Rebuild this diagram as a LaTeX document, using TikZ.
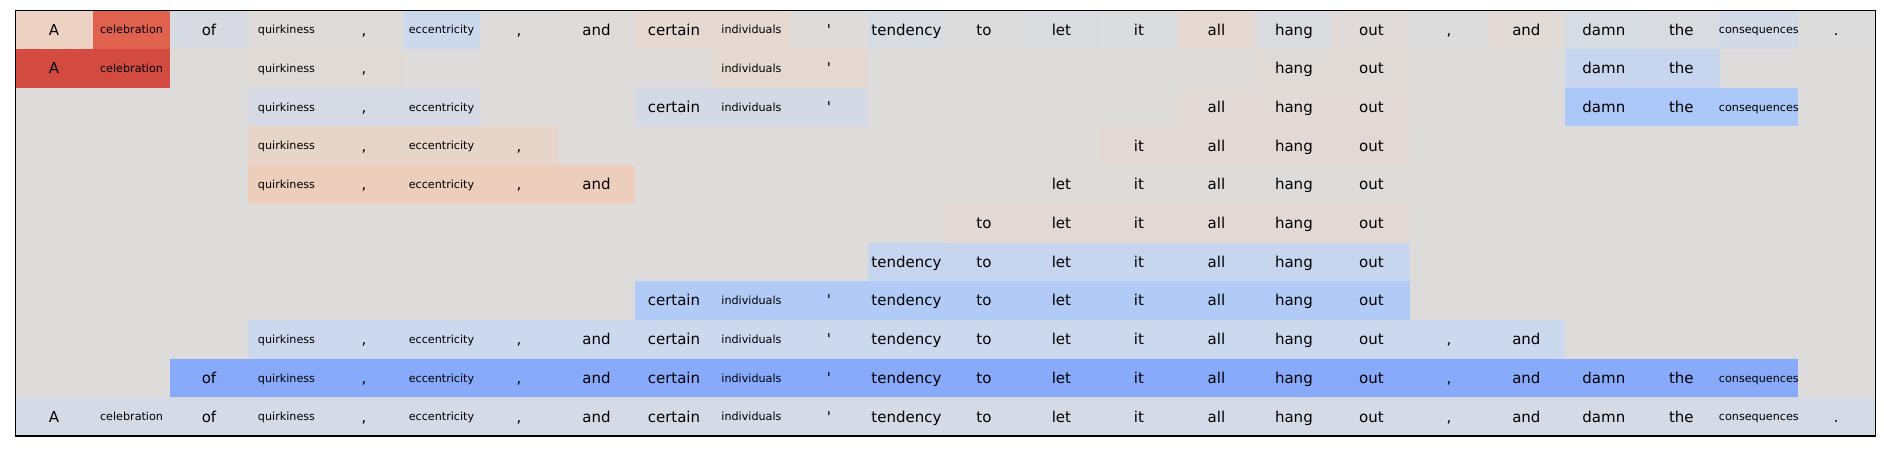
\documentclass[tikz,border=0pt]{standalone}
\usepackage{fontspec}
\setmainfont{DejaVu Sans}
\definecolor{hmback}{HTML}{DDDCDB}
\tikzset{
  tokbig/.style  ={font=\fontsize{10.8}{12}\selectfont, anchor=base, yshift=-3.9pt, inner sep=0pt},
  toksmall/.style={font=\fontsize{8.05}{9}\selectfont, anchor=base, yshift=-3.0pt, inner sep=0pt},
  gridframe/.style={draw=black, line width=0.75pt},
}
\def\cw{77.49}\def\ch{38.7}\def\ox{15.3}\def\oy{10.3}

\begin{document}
\begin{tikzpicture}[x=0.72pt,y=-0.72pt]
  \useasboundingbox (0,0) rectangle (1884,451);
  \fill[hmback] (\ox,\oy) rectangle (1875,436);
  % --- one entry per coloured run: row/first/last/colour ---
  \foreach \r/\a/\b/\hex in {
      1/1/1/EDD1C2, 1/2/2/E0624E, 1/3/3/D7DAE0, 1/4/4/DFDBD8, 1/5/5/DFDBD8,
      1/6/6/CCD9ED, 1/7/7/DDDCDB, 1/8/8/DFDBD8, 1/9/9/E4D8D0, 1/10/10/E4D8D0,
      1/11/11/DEDCDA, 1/12/12/D7DBE2, 1/13/13/DCDCDC, 1/14/14/D9DBDF, 1/15/15/DBDCDD,
      1/16/16/E5D8D0, 1/17/17/D9DBDF, 1/18/18/E0DBD8, 1/19/19/DCDCDC, 1/20/20/E1DAD6,
      1/21/21/D7DBE2, 1/22/22/D9DBE0, 1/23/23/D2DAE8, 1/24/24/DCDCDC,
      2/1/2/D24A40, 2/4/5/E0DAD7, 2/10/11/E5D8D0, 2/17/18/E0DAD7, 2/21/22/C7D6EE,
      3/4/6/D5DAE4, 3/9/11/D4DAE5, 3/16/18/E1DAD6, 3/21/23/ABC8F8,
      4/4/7/E8D5CA, 4/15/18/E2D9D5,
      5/4/8/EDCDBC, 5/14/18/DDDCDB,
      6/13/18/E2D9D5,
      7/12/18/C6D6EF,
      8/9/18/B2CBF6,
      9/4/20/CBD8EE,
      10/3/23/88AAFA,
      11/1/24/D4DBE6}{
    \definecolor{segcol}{HTML}{\hex}
    \fill[segcol] ({\ox+(\a-1)*\cw},{\oy+(\r-1)*\ch}) rectangle ({\ox+\b*\cw},{\oy+\r*\ch});
    \foreach \w/\f [count=\c] in {A/big, celebration/small, of/big, quirkiness/small,
        {,}/big, eccentricity/small, {,}/big, and/big, certain/big, individuals/small,
        \textquotesingle/big, tendency/big, to/big, let/big, it/big, all/big, hang/big,
        out/big, {,}/big, and/big, damn/big, the/big, consequences/small, ./big}{
      \ifnum\c<\a\relax\else\ifnum\c>\b\relax\else
        \node[tok\f] (w-\r-\c) at ({\ox+(\c-0.5)*\cw},{\oy+(\r-0.5)*\ch}) {\w};
      \fi\fi
    }
  }
  \draw[gridframe] (\ox,\oy) rectangle (1875,436);
\end{tikzpicture}
\end{document}
